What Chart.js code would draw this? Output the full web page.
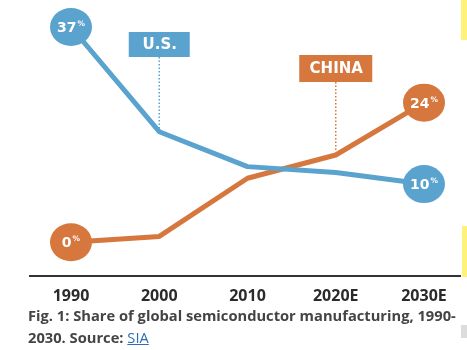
<!DOCTYPE html>
<html><head><meta charset="utf-8">
<script src="https://cdn.jsdelivr.net/npm/chart.js@4"></script>
<style>
html,body{margin:0;padding:0;background:#fff;}
#wrap{position:relative;width:467px;height:350px;overflow:hidden;background:#fff;}
#cv{position:absolute;left:0;top:0;}
.cap{position:absolute;left:28px;font-family:"Open Sans",sans-serif;font-weight:700;font-size:14.7px;color:#444;white-space:nowrap;line-height:20px;}
.cap a{color:#2f6db3;font-weight:400;text-decoration:underline;}
.deco{position:absolute;}
</style></head>
<body>
<div id="wrap">
<canvas id="cv" width="467" height="350"></canvas>
<div class="cap" style="top:305px">Fig. 1: Share of global semiconductor manufacturing, 1990-</div>
<div class="cap" style="top:327px">2030. Source: <a>SIA</a></div>
<div class="deco" style="left:461px;top:0;width:6px;height:40px;background:#fff27a"></div>
<div class="deco" style="left:462px;top:226px;width:5px;height:51px;background:#fff27a"></div>
<div class="deco" style="left:461px;top:325px;width:6px;height:13px;background:#dcdcdc"></div>
</div>
<script>
const years = ['1990', '2000', '2010', '2020E', '2030E'];
const usShare = [37, 19, 13, 12, 10];
const chinaShare = [0, 1, 11, 15, 24];
const seriesNames = ['U.S.', 'CHINA'];

const BLUE = '#5aa3cf';
const ORANGE = '#d6773e';

const callouts = [
  {ds: 0, index: 1, top: 32, w: 61, h: 25},
  {ds: 1, index: 3, top: 55, w: 73, h: 27}
];

const decor = {
  id: 'decor',
  beforeDatasetsDraw(chart) {
    const ctx = chart.ctx;
    ctx.save();
    // baseline
    ctx.strokeStyle = '#333';
    ctx.lineWidth = 2;
    ctx.beginPath();
    ctx.moveTo(29, 276);
    ctx.lineTo(461, 276);
    ctx.stroke();
    // callout dotted lines and boxes
    callouts.forEach(c => {
      const ds = chart.data.datasets[c.ds];
      const pt = chart.getDatasetMeta(c.ds).data[c.index];
      const x = pt.x;
      ctx.strokeStyle = ds.borderColor;
      ctx.lineWidth = 1.5;
      ctx.setLineDash([1.5, 2]);
      ctx.beginPath();
      ctx.moveTo(x, c.top + c.h);
      ctx.lineTo(x, pt.y - 3);
      ctx.stroke();
      ctx.setLineDash([]);
      ctx.fillStyle = ds.borderColor;
      ctx.fillRect(x - c.w / 2, c.top, c.w, c.h);
      ctx.fillStyle = '#fff';
      ctx.font = 'bold 15px "DejaVu Sans"';
      ctx.textAlign = 'center';
      ctx.textBaseline = 'middle';
      ctx.fillText(ds.label, x + 0.5, c.top + c.h / 2 + 1);
    });
    ctx.restore();
  },
  afterDatasetsDraw(chart) {
    const ctx = chart.ctx;
    ctx.save();
    chart.data.datasets.forEach((ds, di) => {
      const meta = chart.getDatasetMeta(di);
      [0, ds.data.length - 1].forEach(i => {
        const pt = meta.data[i];
        ctx.fillStyle = ds.borderColor;
        ctx.beginPath();
        ctx.ellipse(pt.x, pt.y, 21, 19, 0, 0, Math.PI * 2);
        ctx.fill();
        const num = String(ds.data[i]);
        ctx.font = 'bold 14px "DejaVu Sans"';
        const w1 = ctx.measureText(num).width;
        ctx.font = 'bold 7.5px "DejaVu Sans"';
        const w2 = ctx.measureText('%').width;
        const start = pt.x - (w1 + w2 + 1) / 2;
        ctx.fillStyle = '#fff';
        ctx.textAlign = 'left';
        ctx.textBaseline = 'alphabetic';
        ctx.font = 'bold 14px "DejaVu Sans"';
        ctx.fillText(num, start, pt.y + 5);
        ctx.font = 'bold 7.5px "DejaVu Sans"';
        ctx.fillText('%', start + w1 + 1, pt.y - 1);
      });
    });
    ctx.restore();
  }
};

new Chart(document.getElementById('cv'), {
  type: 'line',
  data: {
    labels: years,
    datasets: [
      {label: seriesNames[0], data: usShare, borderColor: BLUE, backgroundColor: BLUE, borderWidth: 5, pointRadius: 0, tension: 0, clip: false, borderJoinStyle: 'round'},
      {label: seriesNames[1], data: chinaShare, borderColor: ORANGE, backgroundColor: ORANGE, borderWidth: 5, pointRadius: 0, tension: 0, clip: false, borderJoinStyle: 'round'}
    ]
  },
  options: {
    responsive: false,
    animation: false,
    devicePixelRatio: 1,
    layout: {padding: {left: 71, right: 43, top: 27, bottom: 40}},
    plugins: {legend: {display: false}, tooltip: {enabled: false}},
    scales: {
      y: {display: false, min: -6.97, max: 37},
      x: {
        grid: {display: false, drawTicks: false},
        border: {display: false},
        ticks: {padding: 4, color: '#2b2b2b', font: {family: '"Open Sans"', weight: 'bold', size: 16}, maxRotation: 0}
      }
    }
  },
  plugins: [decor]
});
</script>
</body></html>
